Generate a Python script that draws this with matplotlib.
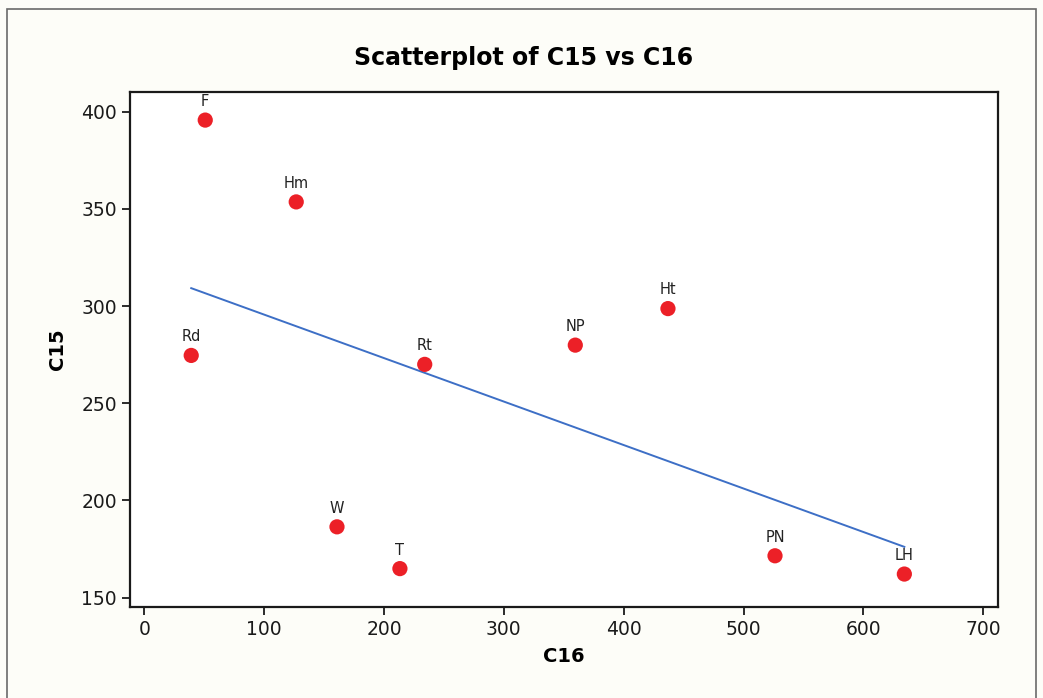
import numpy as np
import matplotlib
matplotlib.use("Agg")
import matplotlib.pyplot as plt
from matplotlib.patches import Rectangle

# data
labels = ["F", "Hm", "Rd", "Rt", "NP", "Ht", "W", "T", "PN", "LH"]
c16 = [50.9, 126.8, 39.2, 234.0, 359.6, 436.9, 160.8, 213.3, 526.2, 634.1]
c15 = [395.7, 353.6, 274.6, 270.0, 279.9, 298.7, 186.4, 164.9, 171.5, 162.1]
xticks = [0, 100, 200, 300, 400, 500, 600, 700]
yticks = [150, 200, 250, 300, 350, 400]

bg = "#fdfdf8"
fig = plt.figure(figsize=(10.43, 6.98), dpi=100, facecolor=bg)
ax = fig.add_axes([0.1246, 0.1308, 0.832, 0.7378], facecolor="white")

# grey frame round the whole graph
fig.patches.append(Rectangle((7 / 1043, -0.01), 1029 / 1043, 1 - 9 / 698 + 0.01,
                             transform=fig.transFigure, fill=False,
                             edgecolor="#6a6a6a", linewidth=1.2))

# least squares fit line over the data range
x = np.array(c16)
y = np.array(c15)
slope, icpt = np.polyfit(x, y, 1)
xl = np.array([x.min(), x.max()])
ax.plot(xl, slope * xl + icpt, color="#3d6fc6", linewidth=1.4, zorder=2)

ax.scatter(x, y, s=120, color="#ec2027", edgecolors="none", zorder=3)
for lab, xi, yi in zip(labels, c16, c15):
    ax.annotate(lab, (xi, yi), xytext=(0, 8), textcoords="offset points",
                ha="center", va="bottom", fontsize=10.5, color="#222222")

ax.set_xlim(-11.9, 712)
ax.set_ylim(145.3, 410.3)
ax.set_xticks(xticks)
ax.set_yticks(yticks)
ax.tick_params(direction="out", length=6, width=1.3, labelsize=13.5,
               colors="#1a1a1a", top=False, right=False)
for sp in ax.spines.values():
    sp.set_linewidth(1.6)
    sp.set_color("#1a1a1a")

ax.set_xlabel("C16", fontsize=14, fontweight="bold", labelpad=6)
ax.set_ylabel("C15", fontsize=14, fontweight="bold", labelpad=10)
fig.text(0.5015, 1 - 58 / 698, "Scatterplot of C15 vs C16", ha="center",
         va="center", fontsize=17, fontweight="bold")

fig.savefig("out.png", dpi=100, facecolor=bg)
